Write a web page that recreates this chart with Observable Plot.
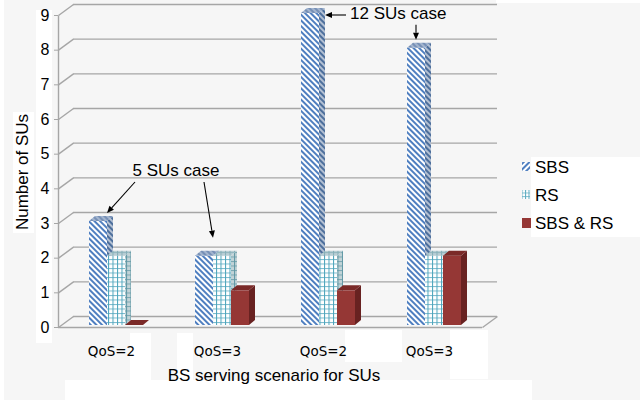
<!DOCTYPE html>
<html>
<head>
<meta charset="utf-8">
<script src="https://cdn.jsdelivr.net/npm/d3@7"></script>
<script src="https://cdn.jsdelivr.net/npm/@observablehq/plot@0.6"></script>
<style>
  html, body { margin: 0; padding: 0; background: #fff; }
  #chart { position: relative; width: 640px; height: 402px; overflow: hidden; }
  #chart .bg { position: absolute; left: 4px; top: 0; width: 636px; height: 400px; background: #f6f6f6; }
  #chart .patch { position: absolute; background: #fff; }
  #chart svg { position: absolute; left: 0; top: 0; }
</style>
</head>
<body>
<div id="chart">
  <div class="bg"></div>
  <div class="patch" style="left:36px;top:10px;width:16px;height:333px"></div>
  <div class="patch" style="left:13px;top:112px;width:21px;height:121px"></div>
  <div class="patch" style="left:496px;top:0;width:144px;height:3px"></div>
  <div class="patch" style="left:531px;top:157px;width:109px;height:80px"></div>
  <div class="patch" style="left:130px;top:333px;width:21px;height:47px"></div>
  <div class="patch" style="left:177px;top:333px;width:16px;height:47px"></div>
  <div class="patch" style="left:345px;top:330px;width:57px;height:32px"></div>
  <div class="patch" style="left:450px;top:330px;width:38px;height:49px"></div>
  <div class="patch" style="left:65px;top:380px;width:467px;height:20px"></div>
</div>
<script>
// Scenario groups along the x axis and the three series drawn in each group
const scenarios = ["QoS=2", "QoS=3", "QoS=2", "QoS=3"];
const seriesNames = ["SBS", "RS", "SBS & RS"];
const sbsValues = [3, 2, 9, 8];
const rsValues = [2, 2, 2, 2];
const bothValues = [0, 1, 1, 2];
const yTicks = [0, 1, 2, 3, 4, 5, 6, 7, 8, 9];

const seriesValues = [sbsValues, rsValues, bothValues];
const rows = seriesValues.flatMap((vals, s) =>
  vals.map((value, g) => ({group: g, series: s, value})));

// Layout of the pseudo-3D look
const W = 640, H = 402;
const ML = 58, MR = 158, MT = 15, MB = 75;
const BAND = (W - ML - MR) / scenarios.length;
const BAR_W = 18, BAR_START = 31;      // bar width and offset inside a group
const DEPTH_X = 6, DEPTH_Y = 5;        // bar depth (side and top faces)
const LIFT = -2;                       // bars sit slightly behind the front edge
const BACK_X = 15, BACK_Y = 11;        // offset of the back wall gridlines
const GRID = "#a6a6a6";
const FONT = "'Liberation Sans', Arial, Helvetica, sans-serif";

const fronts = ["url(#sbsFront)", "url(#rsFront)", "#953735"];
const sides = ["url(#sbsSide)", "url(#rsSide)", "#682221"];
const tops = ["url(#sbsTop)", "url(#rsTop)", "#7b2a28"];

const chart = Plot.plot({
  width: W, height: H,
  marginLeft: ML, marginRight: MR, marginTop: MT, marginBottom: MB,
  style: {background: "transparent", fontFamily: FONT, overflow: "visible"},
  x: {type: "band", domain: d3.range(scenarios.length), padding: 0},
  y: {domain: [0, 9]},
  marks: [
    // back-wall gridlines and the floor's front edge
    Plot.ruleY(yTicks, {dx: BACK_X, dy: -BACK_Y, stroke: GRID, strokeWidth: 1.4}),
    Plot.ruleY([0], {stroke: GRID, strokeWidth: 1.4}),
    Plot.axisY({ticks: yTicks, tickSize: 4, tickPadding: 5, fontSize: 16, stroke: GRID,
      fill: "#000", label: null, tickFormat: d => String(d)}),
    Plot.axisX({tickSize: 0, tickPadding: 19, fontSize: 13.5, fontFamily: "'DejaVu Sans', sans-serif",
      fill: "#000", label: null, tickFormat: i => scenarios[i]}),
    // front faces of the bars, one mark per series
    ...seriesValues.map((_, s) => Plot.barY(rows.filter(r => r.series === s), {
      x: "group", y: "value", fill: fronts[s], dy: LIFT,
      insetLeft: BAR_START + BAR_W * s,
      insetRight: BAND - BAR_START - BAR_W * (s + 1)
    }))
  ]
});

document.getElementById("chart").appendChild(chart);

const svg = d3.select(chart);
const xs = chart.scale("x"), ys = chart.scale("y");

// fill patterns for the hatched and gridded series
const defs = svg.insert("defs", ":first-child");
function stripes(id, angle, bg, fg, period, thick) {
  const p = defs.append("pattern").attr("id", id).attr("patternUnits", "userSpaceOnUse")
    .attr("width", period).attr("height", period).attr("patternTransform", `rotate(${angle})`);
  p.append("rect").attr("width", period).attr("height", period).attr("fill", bg);
  p.append("rect").attr("width", thick).attr("height", period).attr("fill", fg);
}
function grid(id, bg, fg, cell) {
  const p = defs.append("pattern").attr("id", id).attr("patternUnits", "userSpaceOnUse")
    .attr("width", cell).attr("height", cell);
  p.append("rect").attr("width", cell).attr("height", cell).attr("fill", bg);
  p.append("rect").attr("width", 1).attr("height", cell).attr("fill", fg);
  p.append("rect").attr("width", cell).attr("height", 1).attr("fill", fg).attr("opacity", 0.75);
}
stripes("sbsFront", -45, "#ffffff", "#4f7fc0", 4, 2);
stripes("sbsSide", -45, "#b3c0d3", "#4d6f9c", 4, 2);
stripes("sbsTop", -45, "#a3b5cf", "#7790b6", 4, 2);
stripes("sbsKey", 45, "#ffffff", "#4f7fc0", 4, 2);
grid("rsFront", "#ffffff", "#4aa3ba", 4.5);
grid("rsSide", "#c2d3d7", "#5f97a4", 4.5);
grid("rsTop", "#b9ced4", "#85aeb8", 4.5);
grid("rsKey", "#ffffff", "#5aaac0", 3.5);

// side and top faces, placed right after each series' front faces
const barGroups = chart.querySelectorAll('g[aria-label="bar"]');
seriesValues.forEach((vals, s) => {
  const g = d3.create("svg:g");
  vals.forEach((v, gi) => {
    const x1 = xs.apply(gi) + BAR_START + BAR_W * s, x2 = x1 + BAR_W;
    const yt = ys.apply(v) + LIFT, yb = ys.apply(0) + LIFT;
    g.append("polygon").attr("fill", sides[s])
      .attr("points", [[x2, yt], [x2 + DEPTH_X, yt - DEPTH_Y], [x2 + DEPTH_X, yb - DEPTH_Y], [x2, yb]].join(" "));
    g.append("polygon").attr("fill", tops[s])
      .attr("points", [[x1, yt], [x2, yt], [x2 + DEPTH_X, yt - DEPTH_Y], [x1 + DEPTH_X, yt - DEPTH_Y]].join(" "));
  });
  barGroups[s].after(g.node());
});

// left wall edge, gridline diagonals and the floor's right edge
const frame = svg.append("g").attr("stroke", GRID).attr("stroke-width", 1.4).attr("fill", "none");
const left = ML + 0.5, right = W - MR + 0.5;
frame.append("line").attr("x1", left).attr("x2", left)
  .attr("y1", ys.apply(9) + 0.5).attr("y2", ys.apply(0) + 0.5);
yTicks.forEach(t => {
  const y = ys.apply(t) + 0.5;
  frame.append("line").attr("x1", left).attr("y1", y).attr("x2", left + BACK_X).attr("y2", y - BACK_Y);
});
frame.append("line").attr("x1", right).attr("y1", ys.apply(0) + 0.5)
  .attr("x2", right + BACK_X).attr("y2", ys.apply(0) + 0.5 - BACK_Y);

// axis titles
svg.append("text").text("Number of SUs")
  .attr("transform", `translate(22,${(ys.apply(0) + ys.apply(9)) / 2 + 1}) rotate(-90)`)
  .attr("text-anchor", "middle").attr("dominant-baseline", "central")
  .attr("font-size", 17).attr("font-family", FONT).attr("fill", "#000");
svg.append("text").text("BS serving scenario for SUs")
  .attr("x", 274).attr("y", 375)
  .attr("text-anchor", "middle").attr("dominant-baseline", "central")
  .attr("font-size", 17).attr("font-family", FONT).attr("fill", "#000");

// annotations pointing at the SBS bars
const ann = svg.append("g");
function arrow(x1, y1, x2, y2) {
  const a = Math.atan2(y2 - y1, x2 - x1), len = 7, half = 3;
  const bx = x2 - len * Math.cos(a), by = y2 - len * Math.sin(a);
  ann.append("line").attr("x1", x1).attr("y1", y1).attr("x2", bx).attr("y2", by)
    .attr("stroke", "#000").attr("stroke-width", 1.1);
  ann.append("polygon").attr("fill", "#000").attr("points", [
    [x2, y2],
    [bx + half * Math.sin(a), by - half * Math.cos(a)],
    [bx - half * Math.sin(a), by + half * Math.cos(a)]
  ].join(" "));
}
const sbsRight = gi => xs.apply(gi) + BAR_START + BAR_W;
const sbsTop = gi => ys.apply(sbsValues[gi]) + LIFT;
function label(text, x, y, anchor) {
  ann.append("text").text(text).attr("x", x).attr("y", y)
    .attr("text-anchor", anchor).attr("dominant-baseline", "central")
    .attr("font-size", 17).attr("font-family", FONT).attr("fill", "#000");
}
// "5 SUs case" for the first two groups
label("5 SUs case", sbsRight(0) + 69, sbsTop(0) - 51, "middle");
arrow(sbsRight(0) + 28, sbsTop(0) - 39, sbsRight(0), sbsTop(0) - 8);
arrow(sbsRight(1) - 9, sbsTop(0) - 39, sbsRight(1), sbsTop(1) - 18);
// "12 SUs case" for the last two groups
label("12 SUs case", sbsRight(2) + 31, sbsTop(2), "start");
arrow(sbsRight(2) + 27, sbsTop(2) + 2, sbsRight(2) + DEPTH_X, sbsTop(2) + 2);
arrow(sbsRight(3) - 9, sbsTop(3) - 23, sbsRight(3) - 9, sbsTop(3) - 8);

// legend
const legend = svg.append("g").attr("font-family", FONT).attr("font-size", 17)
  .attr("text-anchor", "start");
const keyFills = ["url(#sbsKey)", "url(#rsKey)", "#953735"];
seriesNames.forEach((name, i) => {
  const cy = 167 + 28 * i;
  legend.append("rect").attr("x", 522).attr("y", cy - 5).attr("width", i === 2 ? 9 : 8)
    .attr("height", i === 2 ? 10 : 9).attr("fill", keyFills[i]);
  legend.append("text").text(name).attr("x", 535).attr("y", cy)
    .attr("text-anchor", "start").attr("dominant-baseline", "central").attr("fill", "#000");
});
</script>
</body>
</html>
